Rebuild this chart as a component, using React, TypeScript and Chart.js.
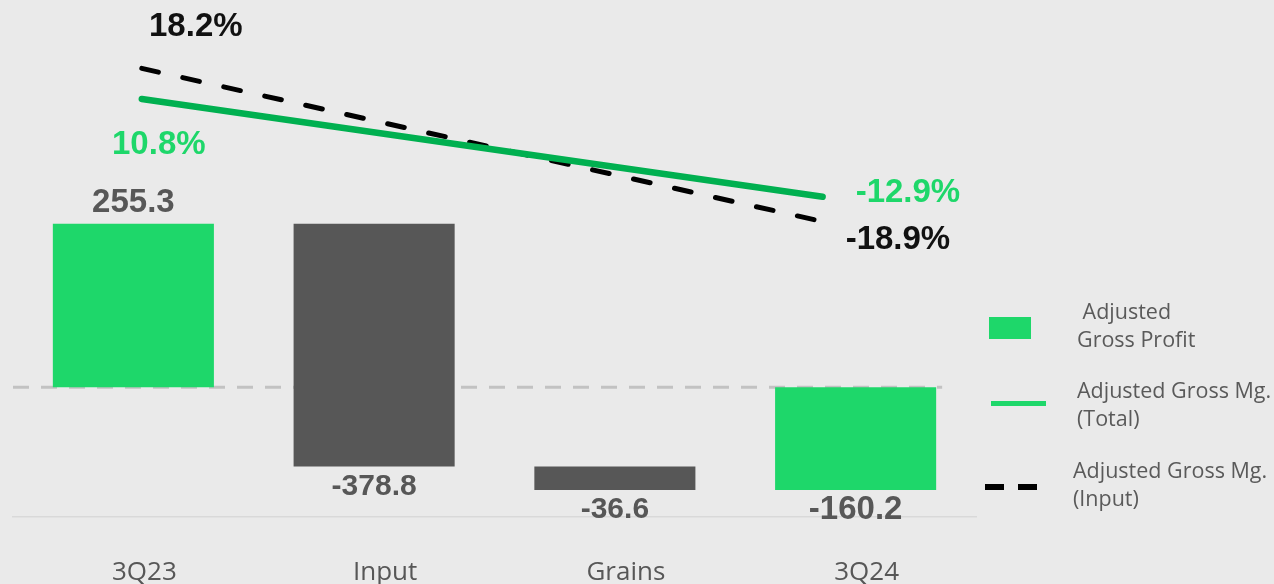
import React, { useEffect, useRef } from 'react';
import { Chart, registerables } from 'chart.js';

Chart.register(...registerables);

// ---- Data ----
const categories = ['3Q23', 'Input', 'Grains', '3Q24'];
const barValues = [255.3, -378.8, -36.6, -160.2];
const barIsTotal = [true, false, false, true];

// Adjusted gross margin lines (two end points each)
const marginTotalValues = [10.8, -12.9];
const marginInputValues = [18.2, -18.9];
// position of the line end points along the category axis (category index units)
const marginPositions = [0.035, 2.863];

const legendLabels = [
  ['\u00a0Adjusted', 'Gross Profit'],
  ['Adjusted Gross Mg.', '(Total)'],
  ['Adjusted Gross Mg.', '(Input)'],
];

// ---- Styles ----
const GREEN = '#1ed76a';
const LINE_GREEN = '#00b050';
const GREY_BAR = '#575757';
const TEXT_GREY = '#575757';
const LEGEND_GREY = '#5a5a5a';
const BG = '#eaeaea';

function buildFloating(values: number[], totals: boolean[]) {
  let run = 0;
  return values.map((v, i) => {
    if (totals[i]) {
      run = v;
      return [0, v];
    }
    const s = run;
    run = run + v;
    return [s, run];
  });
}

const valuePlugin = {
  id: 'valueLabels',
  beforeDatasetsDraw(chart: any) {
    const { ctx, chartArea, scales } = chart;
    const y0 = scales.y.getPixelForValue(0);
    const barMeta = chart.getDatasetMeta(0);
    const last = barMeta.data[barMeta.data.length - 1];
    const right = last.x + last.width / 2 + 6;
    ctx.save();
    ctx.strokeStyle = '#c2c2c2';
    ctx.lineWidth = 3;
    ctx.setLineDash([16, 12]);
    ctx.beginPath();
    ctx.moveTo(chartArea.left, y0);
    ctx.lineTo(right, y0);
    ctx.stroke();
    ctx.restore();
  },
  afterDatasetsDraw(chart: any) {
    const { ctx } = chart;
    ctx.save();
    ctx.textAlign = 'center';
    ctx.textBaseline = 'middle';
    const barMeta = chart.getDatasetMeta(0);
    barMeta.data.forEach((el: any, i: number) => {
      const v = barValues[i];
      const top = Math.min(el.y, el.base);
      const bottom = Math.max(el.y, el.base);
      ctx.fillStyle = TEXT_GREY;
      ctx.font = `bold ${barIsTotal[i] ? 33 : 30}px "Liberation Sans", Arial, sans-serif`;
      const y = v >= 0 ? top - 21 : bottom + 20;
      ctx.fillText(v.toFixed(1), el.x, y);
    });

    const fmt = (v: number) => v.toFixed(1) + '%';
    ctx.font = 'bold 33px "Liberation Sans", Arial, sans-serif';
    const gMeta = chart.getDatasetMeta(1);
    const bMeta = chart.getDatasetMeta(2);
    const g0 = gMeta.data[0], g1 = gMeta.data[1];
    const b0 = bMeta.data[0], b1 = bMeta.data[1];
    // start labels
    ctx.textAlign = 'center';
    ctx.fillStyle = '#111111';
    ctx.fillText(fmt(marginInputValues[0]), b0.x + 54, b0.y - 42);
    ctx.fillStyle = GREEN;
    ctx.fillText(fmt(marginTotalValues[0]), g0.x + 17, g0.y + 46);
    // end labels
    ctx.textAlign = 'left';
    ctx.fillStyle = GREEN;
    ctx.fillText(fmt(marginTotalValues[1]), g1.x + 33, g1.y - 4);
    ctx.fillStyle = '#111111';
    ctx.fillText(fmt(marginInputValues[1]), b1.x + 23, b1.y + 18);
    ctx.restore();
  },
};

export default function App() {
  const ref = useRef<HTMLCanvasElement>(null);

  useEffect(() => {
    const canvas = ref.current;
    if (!canvas) return;
    const floating = buildFloating(barValues, barIsTotal);
    const chart = new Chart(canvas, {
      type: 'bar',
      data: {
        labels: categories,
        datasets: [
          {
            type: 'bar',
            label: 'Adjusted Gross Profit',
            data: floating as any,
            backgroundColor: barIsTotal.map((t) => (t ? GREEN : GREY_BAR)),
            borderWidth: 0,
            grouped: false,
            barPercentage: 0.669,
            categoryPercentage: 1,
            xAxisID: 'x',
            yAxisID: 'y',
            order: 3,
          } as any,
          {
            type: 'line',
            label: 'Adjusted Gross Mg. (Total)',
            data: marginPositions.map((x, i) => ({ x, y: marginTotalValues[i] })),
            borderColor: LINE_GREEN,
            borderWidth: 6.5,
            borderCapStyle: 'round',
            pointRadius: 0,
            tension: 0,
            xAxisID: 'xl',
            yAxisID: 'y2',
            order: 1,
          } as any,
          {
            type: 'line',
            label: 'Adjusted Gross Mg. (Input)',
            data: marginPositions.map((x, i) => ({ x, y: marginInputValues[i] })),
            borderColor: '#000000',
            borderWidth: 5,
            borderDash: [17, 25],
            borderCapStyle: 'round',
            pointRadius: 0,
            tension: 0,
            xAxisID: 'xl',
            yAxisID: 'y2',
            order: 2,
          } as any,
        ],
      },
      options: {
        animation: false,
        responsive: false,
        devicePixelRatio: 1,
        layout: { padding: { left: 13, right: 298, top: 0, bottom: 2 } },
        plugins: {
          legend: { display: false },
          tooltip: { enabled: false },
          title: { display: false },
        },
        scales: {
          x: {
            type: 'category',
            offset: true,
            grid: { display: false, drawTicks: false },
            border: { display: true, color: '#d9d9d9', width: 1.5 },
            ticks: {
              color: TEXT_GREY,
              font: { family: '"Open Sans", sans-serif', size: 26 },
              padding: 40,
              labelOffset: 11,
              maxRotation: 0,
            },
          },
          xl: {
            type: 'linear',
            display: false,
            offset: false,
            grid: { offset: false },
            bounds: 'data',
            min: -0.5,
            max: 3.5,
          },
          y: {
            display: false,
            min: -202,
            max: 604.5,
          },
          y2: {
            display: false,
            position: 'right',
            min: -90.4,
            max: 34.77,
          },
        },
      } as any,
      plugins: [valuePlugin],
    });
    return () => chart.destroy();
  }, []);

  const textStyle: React.CSSProperties = {
    position: 'absolute',
    fontFamily: '"Open Sans", sans-serif',
    fontSize: 21.5,
    lineHeight: '28px',
    color: LEGEND_GREY,
    whiteSpace: 'nowrap',
  };

  return (
    <div
      style={{
        position: 'fixed',
        left: 0,
        top: 0,
        width: 1274,
        height: 584,
        overflow: 'hidden',
        background: BG,
      }}
    >
      <canvas
        ref={ref}
        width={1274}
        height={630}
        style={{ position: 'absolute', left: 0, top: 0, width: 1274, height: 630 }}
      />
      {/* Legend */}
      <div style={{ position: 'absolute', left: 989, top: 317, width: 42, height: 22, background: GREEN }} />
      <div style={{ ...textStyle, left: 1077, top: 297 }}>
        {legendLabels[0][0]}
        <br />
        {legendLabels[0][1]}
      </div>
      <div style={{ position: 'absolute', left: 991, top: 401, width: 55, height: 5, background: GREEN }} />
      <div style={{ ...textStyle, left: 1077, top: 376 }}>
        {legendLabels[1][0]}
        <br />
        {legendLabels[1][1]}
      </div>
      <div style={{ position: 'absolute', left: 985, top: 484, width: 19, height: 6, background: '#000' }} />
      <div style={{ position: 'absolute', left: 1018, top: 484, width: 19, height: 6, background: '#000' }} />
      <div style={{ ...textStyle, left: 1073, top: 456 }}>
        {legendLabels[2][0]}
        <br />
        {legendLabels[2][1]}
      </div>
    </div>
  );
}
